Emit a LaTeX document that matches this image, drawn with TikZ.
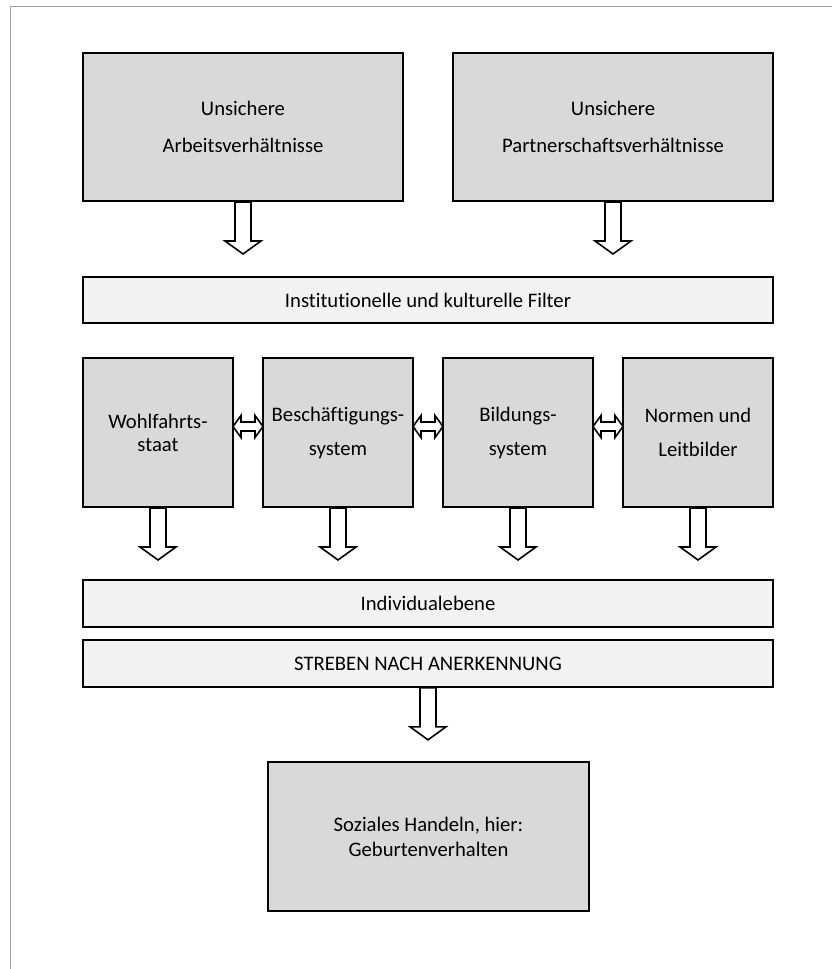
\documentclass[tikz,border=0pt]{standalone}
\usepackage{fontspec}
\setmainfont{Carlito}[Ligatures=NoCommon]
\usetikzlibrary{positioning,calc}
\definecolor{boxgray}{HTML}{D9D9D9}
\definecolor{bargray}{HTML}{F2F2F2}
\definecolor{framegray}{HTML}{A0A0A0}

\begin{document}
\begin{tikzpicture}[x=0.75pt,y=-0.75pt,
  txt/.style={font=\fontsize{15.5}{18.6}\selectfont},
  box/.style={txt,draw,line width=1.5pt,fill=boxgray,align=center,inner sep=0pt},
  bigbox/.style={box,minimum width=240pt,minimum height=111pt},
  midbox/.style={box,minimum width=112.5pt,minimum height=111.75pt},
  bar/.style={txt,draw,line width=1.5pt,fill=bargray,inner sep=0pt,minimum width=517.5pt,minimum height=35pt},
  blockarrow/.style={draw,line width=1.2pt,fill=white,line join=miter},
  downarr/.pic={\draw[blockarrow] (-8,0) -- (-8,39) -- (-18,39) -- (0,52) -- (18,39) -- (8,39) -- (8,0) -- cycle;},
  lrarr/.pic={\draw[blockarrow] (-15,0) -- (-7,-11) -- (-7,-4.5) -- (7,-4.5) -- (7,-11) -- (15,0) -- (7,11) -- (7,4.5) -- (-7,4.5) -- (-7,11) -- cycle;}]
  \useasboundingbox (0,0) rectangle (832,969);
  \draw[framegray,line width=0.75pt] (10,969) -- (10,7) -- (832,7);

  \node[bigbox] (arbeit) at (243,127) {Unsichere\\[9.15pt]Arbeitsverhältnisse};
  \node[bigbox] (partner) at (613,127) {Unsichere\\[9.15pt]Partnerschaftsverhältnisse};
  \node[bar] (filter) at (428,300) {Institutionelle und kulturelle Filter};

  \node[midbox] (wohl) at (158,432.5) {Wohlfahrts-\\[-1.35pt]staat};
  \node[midbox] (besch) at (338,432.5) {Beschäftigungs-\\[6.9pt]system};
  \node[midbox] (bild) at (518,432.5) {Bildungs-\\[6.9pt]system};
  \node[midbox] (normen) at (698,432.5) {Normen und\\[6.9pt]Leitbilder};

  \node[bar] (indiv) at (428,603.5) {Individualebene};
  \node[bar] (streben) at (428,663.5) {STREBEN NACH ANERKENNUNG};
  \node[box,minimum width=240.75pt,minimum height=111.75pt] (handeln) at (428.5,836.5) {Soziales Handeln, hier:\\Geburtenverhalten};

  \pic at (arbeit.south) {downarr};
  \pic at (partner.south) {downarr};
  \foreach \n in {wohl,besch,bild,normen}
    \pic at (\n.south) {downarr};
  \pic at (streben.south) {downarr};

  \pic at ($(wohl.east)!0.5!(besch.west)+(0,-6)$) {lrarr};
  \pic at ($(besch.east)!0.5!(bild.west)+(0,-6)$) {lrarr};
  \pic at ($(bild.east)!0.5!(normen.west)+(0,-6)$) {lrarr};
\end{tikzpicture}
\end{document}
